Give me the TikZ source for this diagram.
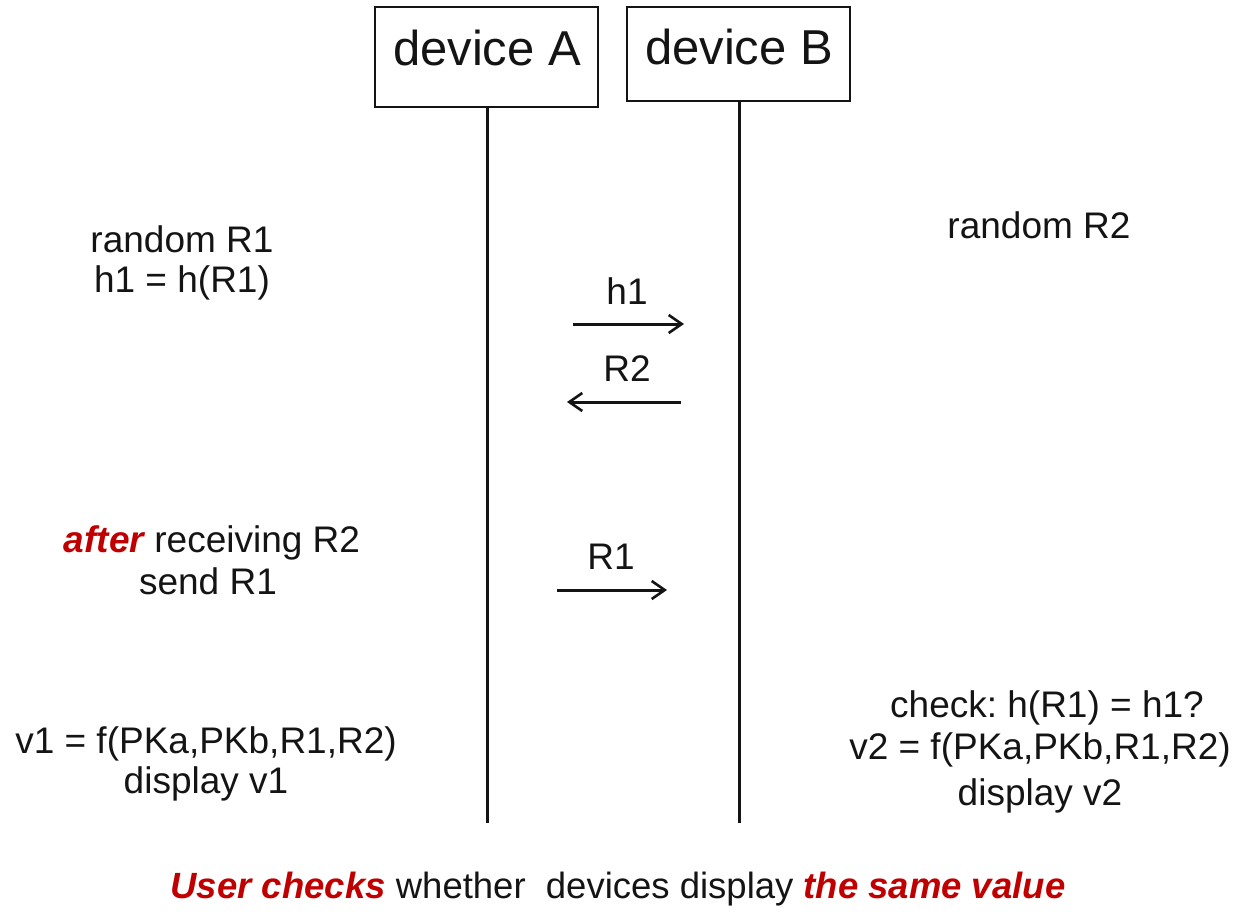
\documentclass[tikz,border=0pt]{standalone}
\usepackage{fontspec}
\setmainfont{Liberation Sans}
\usetikzlibrary{arrows.meta}
\definecolor{accent}{RGB}{192,0,0}
\definecolor{ink}{RGB}{20,20,20}
\newcommand\emred[1]{{\color{accent}\bfseries\itshape #1}}
\frenchspacing
\begin{document}
\begin{tikzpicture}[x=1pt,y=-1pt,
  txt/.style={anchor=base,inner sep=0pt,text=ink,font=\fontsize{37}{42}\selectfont},
  head/.style={anchor=base,inner sep=0pt,text=ink,font=\fontsize{49}{56}\selectfont},
  devbox/.style={draw=ink,line width=2.2pt},
  lifeline/.style={draw=ink,line width=3pt},
  msg/.style={draw=ink,line width=3pt,-{Straight Barb[length=13pt,width=18pt,line width=2.6pt]}}]
\useasboundingbox (0,0) rectangle (1248,911);

% participants
\draw[devbox] (375,7) rectangle (598,107);
\draw[devbox] (627,7) rectangle (850,101);
\node[head] (devA) at (487,65) {device A};
\node[head] (devB) at (739,64) {device B};
\coordinate (aTop) at (487,107);
\coordinate (aBot) at (487,823);
\coordinate (bTop) at (739,101);
\coordinate (bBot) at (739,823);
\draw[lifeline] (aTop) -- (aBot);
\draw[lifeline] (bTop) -- (bBot);

% device A, first step
\node[txt] (a1) at (182,252) {random R1};
\node[txt] (a2) at (182,292) {h1 = h(R1)};
% device B, first step
\node[txt] (b1) at (1039,238) {random R2};

% commitment and reply
\node[txt] (m1) at (627,304) {h1};
\coordinate (m1s) at (573,324);
\coordinate (m1e) at (684,324);
\draw[msg] (m1s) -- (m1e);

\node[txt] (m2) at (627,381) {R2};
\coordinate (m2s) at (681,402);
\coordinate (m2e) at (567,402);
\draw[msg] (m2s) -- (m2e);

% reveal
\node[txt] (a3) at (212,552) {\emred{after} receiving R2};
\node[txt] (a4) at (208,594) {send R1};
\node[txt] (m3) at (611,569) {R1};
\coordinate (m3s) at (557,590);
\coordinate (m3e) at (667,590);
\draw[msg] (m3s) -- (m3e);

% results
\node[txt] (a5) at (206,753) {v1 = f(PKa,PKb,R1,R2)};
\node[txt] (a6) at (206,793) {display v1};
\node[txt] (b2) at (1047,717) {check: h(R1) = h1?};
\node[txt] (b3) at (1040,759) {v2 = f(PKa,PKb,R1,R2)};
\node[txt] (b4) at (1040,805) {display v2};

% user comparison
\node[txt,font=\fontsize{36.5}{42}\selectfont] (user) at (618,898) {\emred{User checks} whether\ \ devices display \emred{the same value}};
\end{tikzpicture}
\end{document}
